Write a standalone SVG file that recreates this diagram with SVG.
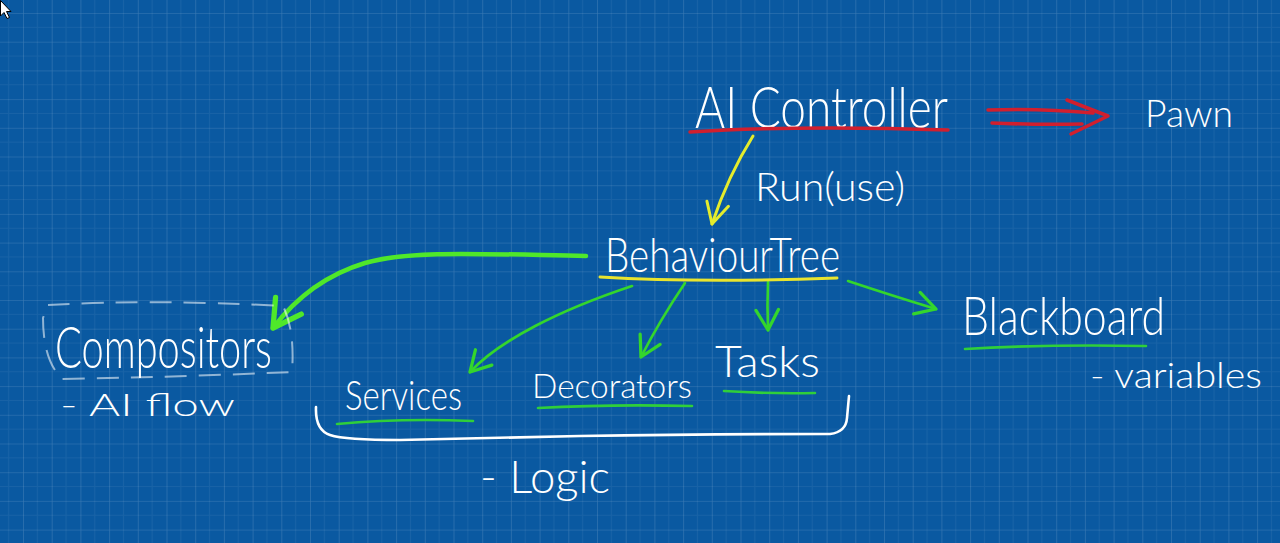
<svg xmlns="http://www.w3.org/2000/svg" width="1280" height="543" viewBox="0 0 1280 543">
  <defs>
    <pattern id="grid" x="23" y="13" width="28.7" height="28.7" patternUnits="userSpaceOnUse">
      <path d="M 14.35 0 V 28.7 M 0 14.35 H 28.7" fill="none" stroke="#ffffff" stroke-opacity="0.06" stroke-width="1"/>
      <path d="M 0 0 V 28.7 M 0 0 H 28.7" fill="none" stroke="#ffffff" stroke-opacity="0.2" stroke-width="1.2"/>
    </pattern>
    <marker id="arrGreen" markerUnits="userSpaceOnUse" markerWidth="30" markerHeight="30" refX="0" refY="0" viewBox="-20 -12 24 24" orient="auto" overflow="visible">
      <path d="M -16 -9 L 0 0 L -16 9" fill="none" stroke="#34d62c" stroke-width="2.6" stroke-linecap="round" stroke-linejoin="round"/>
    </marker>
    <marker id="arrGreenThick" markerUnits="userSpaceOnUse" markerWidth="40" markerHeight="40" refX="0" refY="0" viewBox="-30 -16 34 32" orient="auto" overflow="visible">
      <path d="M -24 -12 L 0 0 L -22 14" fill="none" stroke="#4fe82a" stroke-width="4.5" stroke-linecap="round" stroke-linejoin="round"/>
    </marker>
    <marker id="arrYellow" markerUnits="userSpaceOnUse" markerWidth="30" markerHeight="30" refX="0" refY="0" viewBox="-26 -14 30 28" orient="auto" overflow="visible">
      <path d="M -22 -10 L 0 0 L -20 12" fill="none" stroke="#e4ec2c" stroke-width="3" stroke-linecap="round" stroke-linejoin="round"/>
    </marker>
    <style>
      .hand { font-family: Lato, "Open Sans", "Liberation Sans", sans-serif; font-weight: 300; fill: #ffffff; }
      .ul { fill: none; stroke-linecap: round; }
      .green { stroke: #2fcf3a; stroke-width: 2.6; }
      .conn { fill: none; stroke-linecap: round; stroke-linejoin: round; }
    </style>
  </defs>

  <rect x="0" y="0" width="1280" height="543" fill="#0a59a1"/>
  <rect x="0" y="0" width="1280" height="543" fill="url(#grid)"/>

  <g id="connectors">
    <path class="conn" d="M 753 136 Q 728 176 712 224" stroke="#e4ec2c" stroke-width="3" marker-end="url(#arrYellow)"/>
    <path class="conn" d="M 988 110 Q 1040 108 1093 113" stroke="#d11f2e" stroke-width="3.5"/>
    <path class="conn" d="M 992 123 Q 1040 125 1082 124" stroke="#d11f2e" stroke-width="3.5"/>
    <path class="conn" d="M 1067 100 L 1108 116 L 1071 134" stroke="#d11f2e" stroke-width="3.5"/>
    <path class="conn" d="M 586 256 C 480 254 410 250 365 263 C 322 276 292 303 273 328" stroke="#4fe82a" stroke-width="4.5" marker-end="url(#arrGreenThick)"/>
    <path class="conn" d="M 632 286 C 560 310 500 340 470 372" stroke="#34d62c" stroke-width="2.6" marker-end="url(#arrGreen)"/>
    <path class="conn" d="M 685 283 Q 660 320 641 357" stroke="#34d62c" stroke-width="2.6" marker-end="url(#arrGreen)"/>
    <path class="conn" d="M 768 282 Q 767 305 768 330" stroke="#34d62c" stroke-width="2.6" marker-end="url(#arrGreen)"/>
    <path class="conn" d="M 848 281 Q 890 295 936 309" stroke="#34d62c" stroke-width="2.6" marker-end="url(#arrGreen)"/>
  </g>

  <g id="ai-controller">
    <text class="hand" x="695" y="128" font-size="58" textLength="253" lengthAdjust="spacingAndGlyphs">AI Controller</text>
    <path class="ul" d="M 690 132 Q 800 125 948 130" stroke="#d11f2e" stroke-width="3.5"/>
  </g>

  <g id="pawn">
    <text class="hand" x="1145" y="127" font-size="38" textLength="88" lengthAdjust="spacingAndGlyphs">Pawn</text>
  </g>

  <g id="run-label">
    <text class="hand" x="755" y="201" font-size="40" textLength="150" lengthAdjust="spacingAndGlyphs">Run(use)</text>
  </g>

  <g id="behaviour-tree">
    <text class="hand" x="605" y="272" font-size="48" textLength="235" lengthAdjust="spacingAndGlyphs">BehaviourTree</text>
    <path class="ul" d="M 600 277 Q 700 283 837 278" stroke="#e9e42e" stroke-width="3"/>
  </g>

  <g id="compositors">
    <path d="M 48 305 Q 150 299 283 306 Q 295 330 292 372 Q 180 377 62 379 Q 43 360 43 318 Z" fill="none" stroke="#ffffff" stroke-opacity="0.55" stroke-width="2" stroke-dasharray="22 12"/>
    <text class="hand" x="55" y="368" font-size="58" textLength="217" lengthAdjust="spacingAndGlyphs">Compositors</text>
    <text class="hand" x="60" y="416" font-size="31" textLength="175" lengthAdjust="spacingAndGlyphs">- AI flow</text>
  </g>

  <g id="services">
    <text class="hand" x="345" y="410" font-size="42" textLength="117" lengthAdjust="spacingAndGlyphs">Services</text>
    <path class="ul green" d="M 337 424 Q 400 418 473 421"/>
  </g>

  <g id="decorators">
    <text class="hand" x="532" y="398" font-size="34" textLength="160" lengthAdjust="spacingAndGlyphs">Decorators</text>
    <path class="ul green" d="M 538 408 Q 610 404 692 406"/>
  </g>

  <g id="tasks">
    <text class="hand" x="715" y="377" font-size="44" textLength="105" lengthAdjust="spacingAndGlyphs">Tasks</text>
    <path class="ul green" d="M 724 391 Q 770 394 815 393"/>
  </g>

  <g id="logic-group">
    <path d="M 316 407 Q 315 430 330 435 Q 345 440 400 440 L 580 436 Q 700 434 830 434 Q 846 432 847 418 L 849 396" fill="none" stroke="#ffffff" stroke-width="2.6" stroke-linecap="round" stroke-linejoin="round"/>
    <text class="hand" x="480" y="493" font-size="46" textLength="130" lengthAdjust="spacingAndGlyphs">- Logic</text>
  </g>

  <g id="blackboard">
    <text class="hand" x="962" y="335" font-size="54" textLength="203" lengthAdjust="spacingAndGlyphs">Blackboard</text>
    <path class="ul green" d="M 965 349 Q 1050 344 1146 346"/>
    <text class="hand" x="1090" y="388" font-size="36" textLength="172" lengthAdjust="spacingAndGlyphs">- variables</text>
  </g>

  <g id="cursor">
    <path d="M 0.5 0.5 L 0.5 16 L 4 12.5 L 7 18.5 L 9.5 17.5 L 6.5 11.5 L 11 11.5 Z" fill="#ffffff" stroke="#000000" stroke-width="1"/>
  </g>
</svg>
